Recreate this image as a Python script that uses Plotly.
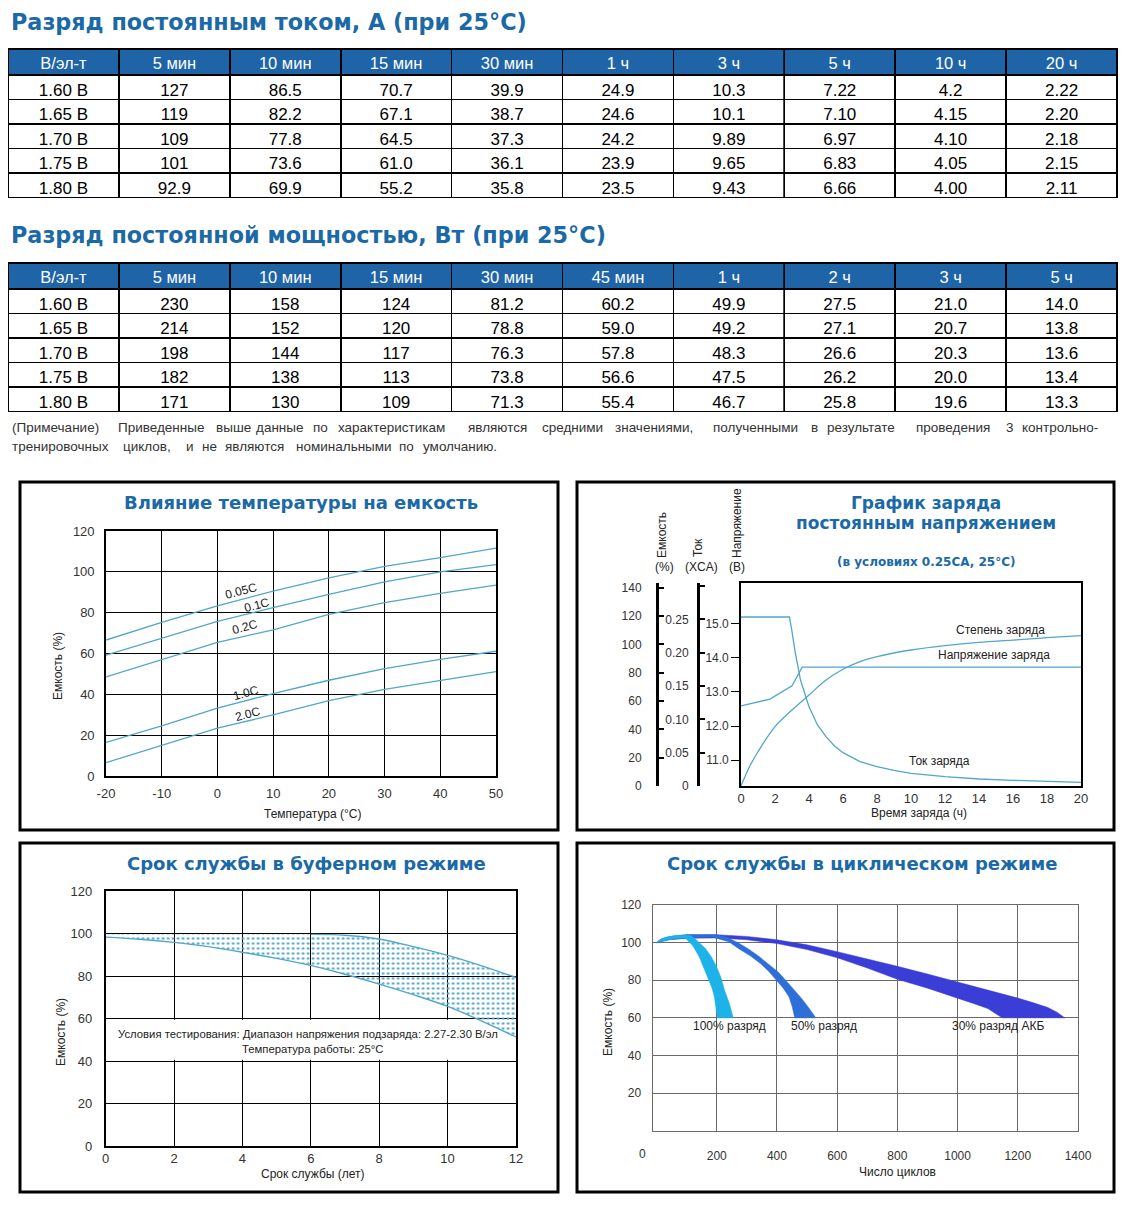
import plotly.graph_objects as go

W, H = 1134, 1206
OFF = 8  # the page body adds an 8px margin; compensate so marks land at reference pixels
def X(px): return (px - OFF) / W
def Y(py): return 1 - (py - OFF) / H

TITLE_BLUE = "#1b69a6"
HEADER_BLUE = "#1f64a6"
TEAL = "#52a6c9"
FONT = "Liberation Sans, Arial, sans-serif"
BOLD = "DejaVu Sans, Arial Black, sans-serif"

# ---------------- table 1 data ----------------
t1_columns = ["В/эл-т", "5 мин", "10 мин", "15 мин", "30 мин", "1 ч", "3 ч", "5 ч", "10 ч", "20 ч"]
t1_voltage = ["1.60 В", "1.65 В", "1.70 В", "1.75 В", "1.80 В"]
t1_5min = ["127", "119", "109", "101", "92.9"]
t1_10min = ["86.5", "82.2", "77.8", "73.6", "69.9"]
t1_15min = ["70.7", "67.1", "64.5", "61.0", "55.2"]
t1_30min = ["39.9", "38.7", "37.3", "36.1", "35.8"]
t1_1h = ["24.9", "24.6", "24.2", "23.9", "23.5"]
t1_3h = ["10.3", "10.1", "9.89", "9.65", "9.43"]
t1_5h = ["7.22", "7.10", "6.97", "6.83", "6.66"]
t1_10h = ["4.2", "4.15", "4.10", "4.05", "4.00"]
t1_20h = ["2.22", "2.20", "2.18", "2.15", "2.11"]

# ---------------- table 2 data ----------------
t2_columns = ["В/эл-т", "5 мин", "10 мин", "15 мин", "30 мин", "45 мин", "1 ч", "2 ч", "3 ч", "5 ч"]
t2_voltage = ["1.60 В", "1.65 В", "1.70 В", "1.75 В", "1.80 В"]
t2_5min = ["230", "214", "198", "182", "171"]
t2_10min = ["158", "152", "144", "138", "130"]
t2_15min = ["124", "120", "117", "113", "109"]
t2_30min = ["81.2", "78.8", "76.3", "73.8", "71.3"]
t2_45min = ["60.2", "59.0", "57.8", "56.6", "55.4"]
t2_1h = ["49.9", "49.2", "48.3", "47.5", "46.7"]
t2_2h = ["27.5", "27.1", "26.6", "26.2", "25.8"]
t2_3h = ["21.0", "20.7", "20.3", "20.0", "19.6"]
t2_5h = ["14.0", "13.8", "13.6", "13.4", "13.3"]

# ---------------- chart 1: temperature vs capacity ----------------
temp_c = [-20, -10, 0, 10, 20, 30, 40, 50]
temp_ticktext = ["-20", "-10", "0", "10", "20", "30", "40", "50"]
cap_005c = [66.6, 75.2, 83.3, 90.6, 97.0, 102.7, 107.0, 111.6]
cap_01c = [59.2, 67.6, 75.7, 82.5, 89.0, 95.1, 100.0, 103.5]
cap_02c = [48.5, 57.1, 65.5, 71.6, 79.2, 84.9, 89.4, 93.5]
cap_10c = [16.5, 24.6, 33.2, 40.4, 46.9, 52.6, 57.1, 61.1]
cap_20c = [6.5, 14.9, 23.5, 29.9, 36.9, 42.4, 46.9, 51.1]
temp_labels = ["0.05C", "0.1C", "0.2C", "1.0C", "2.0C"]
temp_label_x = [4.2, 7.1, 4.9, 5.1, 5.5]
temp_label_y = [90.6, 83.8, 73.1, 40.8, 30.2]

# ---------------- chart 2: constant voltage charge ----------------
chg_time_i = [0, 2.85, 3.0, 3.2, 3.5, 4.0, 4.5, 5.0, 5.5, 6, 7, 8, 9, 10, 12, 14, 16, 18, 20]
chg_current = [0.2535, 0.2535, 0.2315, 0.199, 0.159, 0.119, 0.0915, 0.074, 0.060, 0.05,
               0.0365, 0.029, 0.0235, 0.019, 0.014, 0.0105, 0.0085, 0.0065, 0.0055]
chg_time_v = [0, 1.7, 3.0, 3.3, 3.6, 20]
chg_voltage = [12.59, 12.79, 13.18, 13.46, 13.73, 13.73]
chg_time_c = [0, 0.5, 1, 2, 3, 4, 5, 6, 7, 8, 10, 12, 14, 16, 18, 20]
chg_capacity = [0, 13.6, 24.2, 41.9, 53.6, 64.2, 74.8, 82.4, 87.8, 91.3, 96, 99.1,
                101.4, 103, 104.7, 106.1]
cap_ticks = [0, 20, 40, 60, 80, 100, 120, 140]
cur_ticks = [0, 0.05, 0.10, 0.15, 0.20, 0.25, 0.30]
cur_ticktext = ["0", "0.05", "0.10", "0.15", "0.20", "0.25", ""]
volt_ticks = [11, 12, 13, 14, 15]
volt_ticktext = ["11.0", "12.0", "13.0", "14.0", "15.0"]

# ---------------- chart 3: float service life ----------------
float_upper_x = [0, 2, 4, 6, 7, 8, 9, 10, 11, 12]
float_upper_y = [99.6, 99.6, 99.6, 99.6, 99.2, 97.4, 93.8, 89.7, 84.8, 79.3]
float_lower_x = [0, 1, 2, 3, 4, 5, 6, 7, 8, 9, 10, 11, 12]
float_lower_y = [98.3, 97.3, 95.8, 93.8, 91.2, 88.3, 85.0, 80.8, 76.2, 71.2, 65.7, 58.8, 51.3]

# ---------------- chart 4: cycle service life ----------------
b100_outer_x = [0, 15, 30, 60, 100, 115, 130, 145, 163, 182, 200, 214, 226, 242, 255]
b100_outer_y = [100, 101.8, 102.8, 103.8, 104, 103.6, 101.8, 99.5, 96.8, 92.5, 87, 81.5, 74.7, 67.6, 60]
b100_inner_x = [202, 197, 192, 184, 174, 158, 142, 120, 95, 60, 30, 15, 0]
b100_inner_y = [60, 66, 71.2, 76, 80, 87, 92.4, 98.5, 102.5, 102.2, 101.3, 100.8, 100]
b50_outer_x = [0, 15, 40, 100, 200, 231, 268, 304, 340, 377, 405, 429, 456, 482, 506, 529]
b50_outer_y = [100, 101.8, 103, 104.2, 104.2, 103, 100.2, 96.8, 92.7, 88, 84.3, 80, 75.3, 70.3, 65.3, 60]
b50_inner_x = [459, 451, 440, 421, 398, 374, 346, 310, 273, 240, 184, 100, 40, 15, 0]
b50_inner_y = [60, 65.8, 71.2, 75.8, 80, 84.5, 88.8, 93.1, 96.8, 100.5, 103, 102.5, 101.5, 100.8, 100]
b30_outer_x = [0, 15, 40, 100, 200, 300, 400, 500, 600, 700, 800, 900, 1000, 1100,
               1200, 1250, 1300, 1330, 1356]
b30_outer_y = [100, 101.8, 103, 104.2, 104.2, 103.3, 101.5, 98.8, 95.2, 91.5, 87.4, 83.3,
               79, 75, 70.5, 68.1, 65.5, 63, 60]
b30_inner_x = [1148, 1125, 1100, 1050, 1000, 900, 800, 700, 600, 500, 400, 300, 200,
               100, 40, 15, 0]
b30_inner_y = [60, 62.6, 65, 67.8, 70.5, 75.8, 80.5, 86.5, 92, 96.3, 99.5, 101.5, 102.5,
               102.3, 101.5, 100.8, 100]
band_names = ["100% разряд", "50% разряд", "30% разряд АКБ"]
band_colors = ["#1db2e8", "#2d6ed8", "#3b3ed6"]
band_label_x = [243, 557, 1135]
band_label_y = [55.6, 55.6, 55.6]

fig = go.Figure()

# ---------------- tables ----------------
def add_table(cols, values, top, bottom):
    fig.add_trace(go.Table(
        domain=dict(x=[X(8), X(1117)], y=[Y(bottom), Y(top)]),
        columnwidth=[1] * len(cols),
        header=dict(values=cols, fill_color=HEADER_BLUE, height=26,
                    line=dict(color="black", width=1.6), align="center",
                    font=dict(family=FONT, size=16.5, color="white")),
        cells=dict(values=values, fill_color="white", height=24.5,
                   line=dict(color="black", width=1.6), align="center",
                   font=dict(family=FONT, size=17, color="black")),
    ))

add_table(t1_columns, [t1_voltage, t1_5min, t1_10min, t1_15min, t1_30min, t1_1h,
                       t1_3h, t1_5h, t1_10h, t1_20h], 49, 205)
add_table(t2_columns, [t2_voltage, t2_5min, t2_10min, t2_15min, t2_30min, t2_45min,
                       t2_1h, t2_2h, t2_3h, t2_5h], 263, 418)

# ---------------- chart 1 traces ----------------
for ys in [cap_005c, cap_01c, cap_02c, cap_10c, cap_20c]:
    fig.add_trace(go.Scatter(x=temp_c, y=ys, mode="lines", line=dict(color=TEAL, width=1.3),
                             xaxis="x", yaxis="y", hoverinfo="skip"))

# ---------------- chart 2 traces ----------------
fig.add_trace(go.Scatter(x=chg_time_i, y=chg_current, mode="lines", line=dict(color=TEAL, width=1.3),
                         xaxis="x2", yaxis="y3", hoverinfo="skip"))
fig.add_trace(go.Scatter(x=chg_time_v, y=chg_voltage, mode="lines", line=dict(color=TEAL, width=1.3),
                         xaxis="x2", yaxis="y2", hoverinfo="skip"))
fig.add_trace(go.Scatter(x=chg_time_c, y=chg_capacity, mode="lines", line=dict(color=TEAL, width=1.3),
                         xaxis="x2", yaxis="y4", line_shape="spline", hoverinfo="skip"))

# ---------------- chart 3 traces ----------------
fig.add_trace(go.Scatter(x=float_upper_x + float_lower_x[::-1], y=float_upper_y + float_lower_y[::-1],
                         mode="lines", fill="toself", line=dict(width=0), fillcolor="rgba(0,0,0,0)",
                         fillpattern=dict(shape=".", fgcolor=TEAL, bgcolor="rgba(0,0,0,0)",
                                          size=5, solidity=0.22),
                         xaxis="x3", yaxis="y5", hoverinfo="skip"))
fig.add_trace(go.Scatter(x=float_upper_x[3:], y=float_upper_y[3:], mode="lines",
                         line=dict(color=TEAL, width=1.4, shape="spline"),
                         xaxis="x3", yaxis="y5", hoverinfo="skip"))
fig.add_trace(go.Scatter(x=float_lower_x, y=float_lower_y, mode="lines",
                         line=dict(color=TEAL, width=1.4, shape="spline"),
                         xaxis="x3", yaxis="y5", hoverinfo="skip"))

# ---------------- chart 4 traces ----------------
bands = [(b30_outer_x, b30_outer_y, b30_inner_x, b30_inner_y, band_colors[2]),
         (b50_outer_x, b50_outer_y, b50_inner_x, b50_inner_y, band_colors[1]),
         (b100_outer_x, b100_outer_y, b100_inner_x, b100_inner_y, band_colors[0])]
for ox, oy, ix, iy, col in bands:
    fig.add_trace(go.Scatter(x=ox + ix, y=oy + iy, mode="lines", fill="toself",
                             fillcolor=col, line=dict(color=col, width=0.5),
                             xaxis="x4", yaxis="y6", hoverinfo="skip"))

# ---------------- axes ----------------
grid_black = dict(showgrid=True, gridcolor="black", gridwidth=1.4, zeroline=False,
                  showline=True, mirror=True, linecolor="black", linewidth=1.6,
                  ticks="", fixedrange=True, automargin=False,
                  tickfont=dict(family=FONT, size=13, color="#333"))
plain = dict(zeroline=False, fixedrange=True, automargin=False)
lay = dict(
    xaxis=dict(domain=[X(106), X(496)], range=[-20, 50], anchor="y",
               tickvals=temp_c, ticktext=temp_ticktext, ticklabelstandoff=5, **grid_black),
    yaxis=dict(domain=[Y(776), Y(531)], range=[0, 120], anchor="x",
               tickvals=[0, 20, 40, 60, 80, 100, 120], ticklabelstandoff=7, **grid_black),
    xaxis2=dict(domain=[X(741), X(1081)], range=[0, 20], anchor="y2",
                tickvals=list(range(0, 21, 2)), showgrid=False,
                showline=True, mirror=True, linecolor="black", linewidth=1.6, ticks="",
                ticklabelstandoff=0, tickfont=dict(family=FONT, size=13, color="#333"), **plain),
    yaxis2=dict(domain=[Y(786), Y(583)], range=[10.24, 16.2], anchor="x2",
                tickvals=volt_ticks, ticktext=volt_ticktext, showgrid=False,
                showline=True, mirror=True, linecolor="black", linewidth=1.6,
                ticks="outside", ticklen=8, tickcolor="black", tickwidth=1,
                tickfont=dict(family=FONT, size=12, color="#333"), **plain),
    yaxis3=dict(overlaying="y2", anchor="free", position=X(698), side="left",
                range=[0, 0.3045], tickvals=cur_ticks, ticktext=cur_ticktext,
                showgrid=False, showline=True, linecolor="black", linewidth=3,
                ticks="inside", ticklen=5, tickwidth=2, tickcolor="black",
                ticklabelstandoff=6, tickfont=dict(family=FONT, size=12, color="#333"), **plain),
    yaxis4=dict(overlaying="y2", anchor="free", position=X(657), side="left",
                range=[0, 143.3], tickvals=cap_ticks,
                showgrid=False, showline=True, linecolor="black", linewidth=3,
                ticks="inside", ticklen=5, tickwidth=2, tickcolor="black",
                ticklabelstandoff=12, tickfont=dict(family=FONT, size=12, color="#333"), **plain),
    xaxis3=dict(domain=[X(105.6), X(516)], range=[0, 12], anchor="y5",
                tickvals=[0, 2, 4, 6, 8, 10, 12], ticklabelstandoff=0, **grid_black),
    yaxis5=dict(domain=[Y(1146), Y(891)], range=[0, 120], anchor="x3",
                tickvals=[0, 20, 40, 60, 80, 100, 120], ticklabelstandoff=9, **grid_black),
    xaxis4=dict(domain=[X(652.6), X(1078)], range=[-13, 1400], anchor="y6",
                tickvals=[200, 400, 600, 800, 1000, 1200, 1400], showgrid=True,
                gridcolor="#6a6a6a", gridwidth=1, showline=True, mirror=True,
                linecolor="#6a6a6a", linewidth=1, ticks="", ticklabelstandoff=14,
                tickfont=dict(family=FONT, size=12, color="#333"), **plain),
    yaxis6=dict(domain=[Y(1130.7), Y(905)], range=[0, 120], anchor="x4",
                tickvals=[20, 40, 60, 80, 100, 120], showgrid=True,
                gridcolor="#6a6a6a", gridwidth=1, showline=True, mirror=True,
                linecolor="#6a6a6a", linewidth=1, ticks="", ticklabelstandoff=8,
                tickfont=dict(family=FONT, size=12, color="#333"), **plain),
)
fig.update_layout(template="none")
fig.update_layout(**lay)

# ---------------- shapes ----------------
shapes = []
for x0, y0, x1, y1 in [(20, 482, 558, 830), (577, 482, 1114, 830),
                       (20, 843, 558, 1192), (577, 843, 1114, 1192)]:
    shapes.append(dict(type="rect", xref="paper", yref="paper", x0=X(x0), x1=X(x1),
                       y0=Y(y1), y1=Y(y0), line=dict(color="black", width=3)))
shapes.append(dict(type="rect", xref="x3", yref="y5", x0=0.05, x1=11.95, y0=40.6, y1=59.4,
                   fillcolor="white", line=dict(width=0), layer="between"))
fig.update_layout(shapes=shapes)

# ---------------- annotations ----------------
anns = []
def ann(text, px, py, size=12, color="#222", family=FONT, angle=0, xanchor="center", bold=False):
    if bold:
        text = "<b>" + text + "</b>"
    anns.append(dict(text=text, x=X(px), y=Y(py), xref="paper", yref="paper", showarrow=False,
                     xanchor=xanchor, yanchor="middle", textangle=angle,
                     font=dict(family=family, size=size, color=color)))

# table titles
ann("Разряд постоянным током, А (при 25°C)", 9, 22, size=22.3, color=TITLE_BLUE,
    family=BOLD, xanchor="left", bold=True)
ann("Разряд постоянной мощностью, Вт (при 25°C)", 9, 235, size=22.3, color=TITLE_BLUE,
    family=BOLD, xanchor="left", bold=True)

# note lines, words spread like justified text
note_line1 = ("(Примечание) Приведенные выше данные по характеристикам являются средними "
              "значениями, полученными в результате проведения 3 контрольно-")
note_line2 = "тренировочных циклов, и не являются номинальными по умолчанию."
for line, py, per_char in [(note_line1, 428, 1100 / len(note_line1)), (note_line2, 447, 7.9)]:
    pos = 0
    for word in line.split(" "):
        ann(word, 10 + pos * per_char, py, size=13.5, color="#333", xanchor="left")
        pos += len(word) + 1

# chart titles
ann("Влияние температуры на емкость", 301, 503, size=18, color=TITLE_BLUE, family=BOLD, bold=True)
ann("График заряда", 926, 503, size=17, color=TITLE_BLUE, family=BOLD, bold=True)
ann("постоянным напряжением", 926, 523, size=17, color=TITLE_BLUE, family=BOLD, bold=True)
ann("(в условиях 0.25CA, 25°C)", 926, 562, size=12, color=TITLE_BLUE, family=BOLD, bold=True)
ann("Срок службы в буферном режиме", 306, 863, size=18, color=TITLE_BLUE, family=BOLD, bold=True)
ann("Срок службы в циклическом режиме", 862, 863, size=18, color=TITLE_BLUE, family=BOLD, bold=True)

# axis titles
ann("Емкость (%)", 58, 666, size=12, angle=-90)
ann("Температура (°C)", 312, 814, size=12)
ann("Время заряда (ч)", 919, 813, size=12)
ann("Емкость", 662, 535, size=12, angle=-90)
ann("(%)", 664, 567, size=12)
ann("Ток", 698, 548, size=12, angle=-90)
ann("(XCA)", 701, 567, size=12)
ann("Напряжение", 737, 523, size=12, angle=-90)
ann("(B)", 737, 567, size=12)
ann("Емкость (%)", 61, 1032, size=12, angle=-90)
ann("Срок службы (лет)", 313, 1174, size=12)
ann("Емкость (%)", 608, 1022, size=12, angle=-90)
ann("Число циклов", 897, 1172, size=12)
ann("0", 642, 1154, size=12, color="#333")

# chart 1 labels
for t, lx, ly in zip(temp_labels, temp_label_x, temp_label_y):
    anns.append(dict(text=t, x=lx, y=ly, xref="x", yref="y", showarrow=False, textangle=-15,
                     font=dict(family=FONT, size=12, color="#222")))
# chart 2 labels
for t, lx, ly in [("Степень заряда", 15.25, 14.83), ("Напряжение заряда", 14.9, 14.08),
                  ("Ток заряда", 11.7, 10.98)]:
    anns.append(dict(text=t, x=lx, y=ly, xref="x2", yref="y2", showarrow=False,
                     font=dict(family=FONT, size=12, color="#222")))
# chart 3 note
anns.append(dict(text="Условия тестирования: Диапазон напряжения подзаряда: 2.27-2.30 В/эл",
                 x=5.92, y=52.8, xref="x3", yref="y5", showarrow=False,
                 font=dict(family=FONT, size=11.3, color="#222")))
anns.append(dict(text="Температура работы: 25°C", x=6.05, y=45.6, xref="x3", yref="y5",
                 showarrow=False, font=dict(family=FONT, size=11.3, color="#222")))
# chart 4 labels
for t, lx, ly in zip(band_names, band_label_x, band_label_y):
    anns.append(dict(text=t, x=lx, y=ly, xref="x4", yref="y6", showarrow=False,
                     font=dict(family=FONT, size=12, color="#222")))

fig.update_layout(annotations=anns, width=W, height=H, autosize=False,
                  margin=dict(l=0, r=0, t=0, b=0, pad=0), paper_bgcolor="white",
                  plot_bgcolor="white", showlegend=False, font=dict(family=FONT))

fig.write_html("out.html")
